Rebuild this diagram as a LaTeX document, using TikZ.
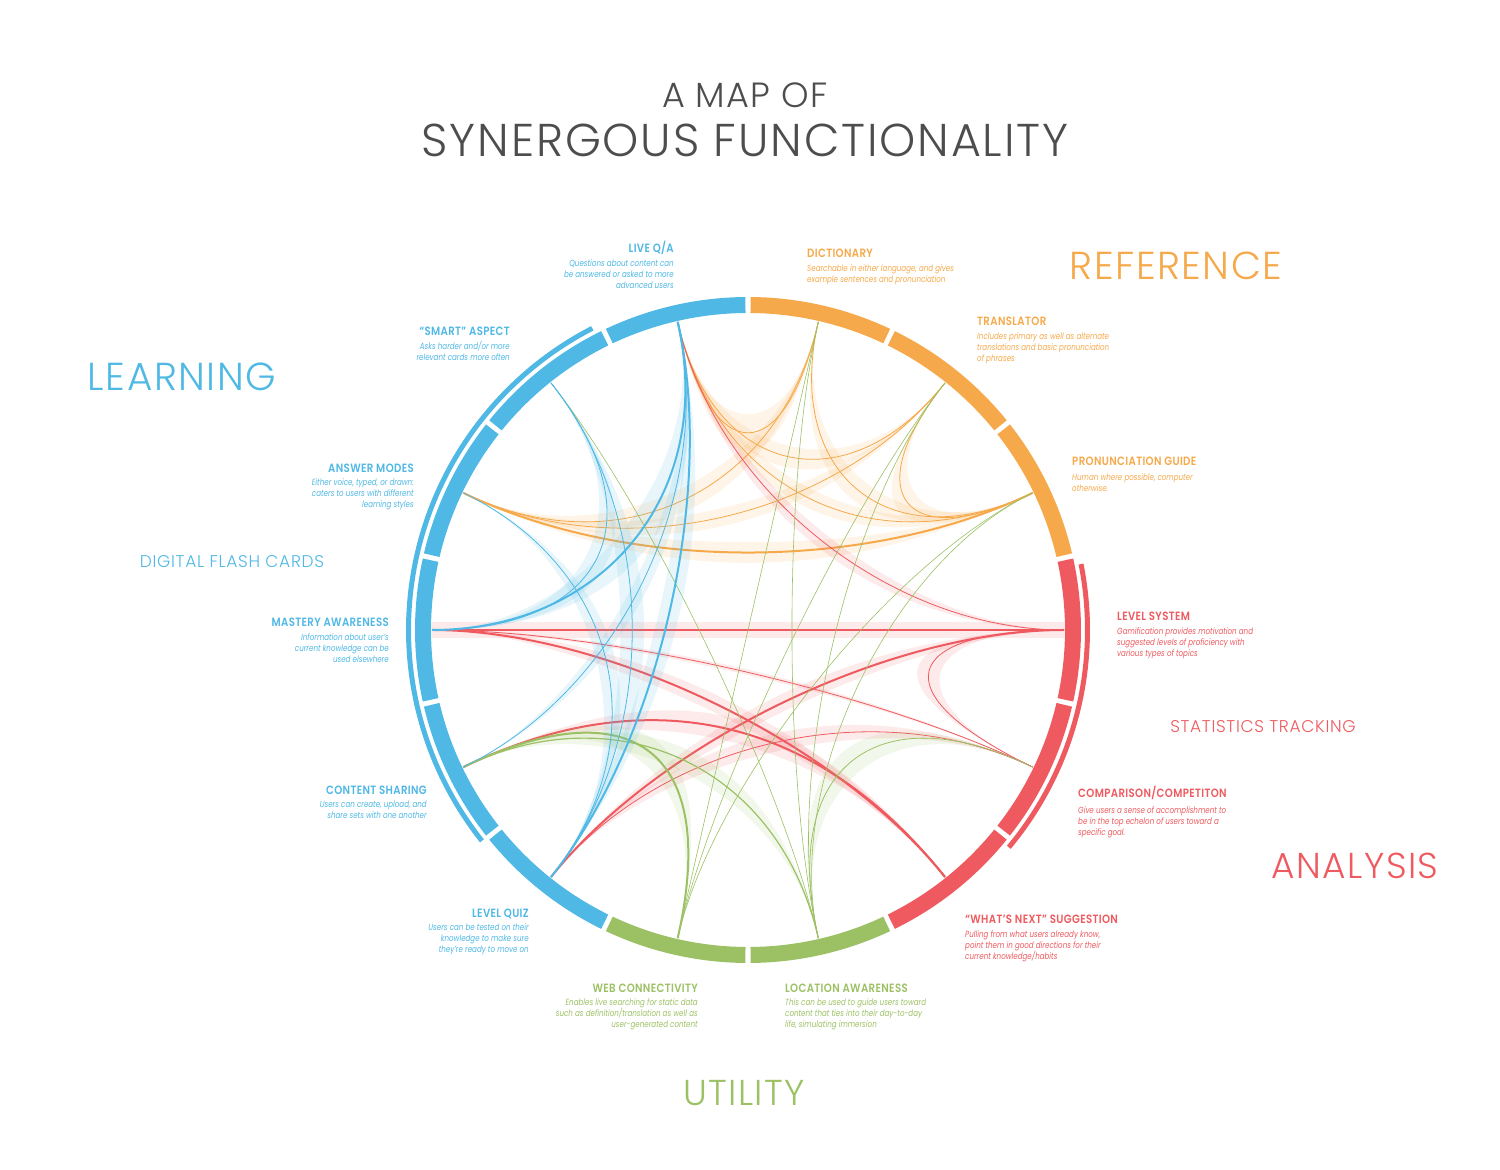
\documentclass[tikz,border=0pt]{standalone}
\usepackage{fontspec}
\setmainfont{Poppins}
\newfontfamily\lightfont{Poppins Light}[LetterSpace=4]
\newfontfamily\hdfont{Poppins SemiBold}[FakeStretch=0.85,LetterSpace=3]
\newfontfamily\descfont{Poppins Italic}[FakeStretch=0.8]
\usetikzlibrary{calc}
\definecolor{cblue}{HTML}{4FB8E4}
\definecolor{corange}{HTML}{F6A94B}
\definecolor{cred}{HTML}{EE5A5F}
\definecolor{cgreen}{HTML}{9CC164}
\definecolor{cgray}{HTML}{4D4D4F}
\newcommand\chordlink[6]{%
  \pgfmathsetmacro\kA{#3-#6}\pgfmathsetmacro\kB{#3+#6}%
  \fill[#4,opacity=.13] (#1) .. controls ($(c)!\kA!(#1)$) and ($(c)!\kA!(#2)$) .. (#2)
     .. controls ($(c)!\kB!(#2)$) and ($(c)!\kB!(#1)$) .. (#1) -- cycle;
  \draw[#4,line width=#5] (#1) .. controls ($(c)!#3!(#1)$) and ($(c)!#3!(#2)$) .. (#2);
}
\tikzset{
  hd/.style={inner sep=0pt, font=\hdfont\fontsize{12}{12}\selectfont},
  desc/.style={inner sep=0pt, font=\descfont\fontsize{8.9}{11}\selectfont},
  big/.style={inner sep=0pt, font=\lightfont\fontsize{39}{39}\selectfont},
  mid/.style={inner sep=0pt, font=\lightfont\fontsize{17}{17}\selectfont},
}
\begin{document}
\begin{tikzpicture}[x=1pt,y=1pt]
\useasboundingbox (0,0) rectangle (1500,1170);
\coordinate (c) at (748,540);
\foreach \i in {0,...,13} \coordinate (p\i) at ($(c)+({90+(\i+0.5)*360/14}:316)$);

% ---- chords ----
% orange
\chordlink{p0}{p13}{0.52}{corange}{0.8}{0.08}
\chordlink{p0}{p12}{0.5}{corange}{0.8}{0.05}
\chordlink{p0}{p11}{0.45}{corange}{0.8}{0.05}
\chordlink{p2}{p13}{0.45}{corange}{0.8}{0.06}
\chordlink{p2}{p12}{0.45}{corange}{0.8}{0.06}
\chordlink{p2}{p11}{0.42}{corange}{2}{0.1}
\chordlink{p12}{p11}{0.55}{corange}{0.8}{0.05}
\chordlink{p13}{p11}{0.5}{corange}{0.8}{0.05}
% red
\draw[cred,opacity=.13,line width=16] (p3) -- (p10);
\draw[cred,line width=2.2] (p3) -- (p10);
\chordlink{p0}{p10}{0.45}{cred}{0.8}{0.05}
\chordlink{p10}{p9}{0.47}{cred}{0.8}{0.05}
\chordlink{p5}{p10}{0.45}{cred}{2}{0.08}
\chordlink{p3}{p8}{0.45}{cred}{2}{0.08}
\chordlink{p3}{p9}{0.45}{cred}{0.8}{0.05}
\chordlink{p4}{p8}{0.35}{cred}{2}{0.08}
\chordlink{p5}{p9}{0.45}{cred}{0.8}{0.06}
% green
\chordlink{p4}{p6}{0.4}{cgreen}{2}{0.06}
\chordlink{p4}{p7}{0.45}{cgreen}{1.2}{0.06}
\chordlink{p7}{p9}{0.45}{cgreen}{0.8}{0.06}
\chordlink{p6}{p13}{0.5}{cgreen}{0.6}{0}
\chordlink{p6}{p12}{0.5}{cgreen}{0.6}{0}
\chordlink{p6}{p11}{0.5}{cgreen}{0.6}{0}
\chordlink{p7}{p13}{0.5}{cgreen}{0.6}{0}
\chordlink{p7}{p12}{0.5}{cgreen}{0.6}{0}
\chordlink{p7}{p11}{0.5}{cgreen}{0.6}{0}
\chordlink{p1}{p7}{0.5}{cgreen}{0.6}{0}
% blue
\chordlink{p0}{p3}{0.45}{cblue}{2}{0.08}
\chordlink{p0}{p5}{0.45}{cblue}{2}{0.1}
\chordlink{p0}{p4}{0.45}{cblue}{0.8}{0.05}
\chordlink{p1}{p5}{0.45}{cblue}{0.8}{0.08}
\chordlink{p1}{p3}{0.45}{cblue}{0.8}{0.05}
\chordlink{p2}{p5}{0.45}{cblue}{0.8}{0.05}

% ---- ring ----
\foreach \i/\col in {0/cblue,1/cblue,2/cblue,3/cblue,4/cblue,5/cblue,6/cgreen,7/cgreen,8/cred,9/cred,10/cred,11/corange,12/corange,13/corange}{
  \pgfmathsetmacro\aa{90+\i*360/14+0.45}
  \pgfmathsetmacro\ab{90+(\i+1)*360/14-0.45}
  \fill[\col] ($(c)+(\aa:333)$) arc[start angle=\aa, end angle=\ab, radius=333]
     -- ($(c)+(\ab:317)$) arc[start angle=\ab, end angle=\aa, radius=317] -- cycle;
}
\fill[cblue] ($(c)+(117.3:342)$) arc[start angle=117.3, end angle=218.4, radius=342]
   -- ($(c)+(218.4:337)$) arc[start angle=218.4, end angle=117.3, radius=337] -- cycle;
\fill[cred] ($(c)+(-39.8:342)$) arc[start angle=-39.8, end angle=11.2, radius=342]
   -- ($(c)+(11.2:337)$) arc[start angle=11.2, end angle=-39.8, radius=337] -- cycle;

% ---- titles ----
\node[inner sep=0pt, text=cgray, font=\lightfont\fontsize{35}{35}\selectfont] (t1) at (745,1075) {A MAP OF};
\node[inner sep=0pt, text=cgray, font=\lightfont\fontsize{46}{46}\selectfont] (t2) at (745,1030) {SYNERGOUS FUNCTIONALITY};
\node[big, text=cblue] (cLearn) at (182,793) {LEARNING};
\node[mid, text=cblue] (cFlash) at (232,608) {DIGITAL FLASH CARDS};
\node[big, text=corange] (cRef) at (1176,904) {REFERENCE};
\node[mid, text=cred] (cStat) at (1263,443) {STATISTICS TRACKING};
\node[big, text=cred, font=\lightfont\fontsize{36}{36}\selectfont] (cAna) at (1355,304) {ANALYSIS};
\node[big, text=cgreen, font=\lightfont\fontsize{36}{36}\selectfont] (cUtil) at (744,77) {UTILITY};

% ---- item labels: left side (right aligned) ----
\node[hd,text=cblue,anchor=base east] (hLive) at (674,917) {LIVE Q/A};
\node[desc,text=cblue,anchor=base east,align=right] (dLive) at (674,881) {Questions about content can\\be answered or asked to more\\advanced users};
\node[hd,text=cblue,anchor=base east] (hSmart) at (510,834) {“SMART” ASPECT};
\node[desc,text=cblue,anchor=base east,align=right] (dSmart) at (510,809) {Asks harder and/or more\\relevant cards more often};
\node[hd,text=cblue,anchor=base east] (hAns) at (414,697) {ANSWER MODES};
\node[desc,text=cblue,anchor=base east,align=right] (dAns) at (414,662) {Either voice, typed, or drawn:\\caters to users with different\\learning styles};
\node[hd,text=cblue,anchor=base east] (hMas) at (389,543) {MASTERY AWARENESS};
\node[desc,text=cblue,anchor=base east,align=right] (dMas) at (389,507) {Information about user’s\\current knowledge can be\\used elsewhere};
\node[hd,text=cblue,anchor=base east] (hCon) at (427,375) {CONTENT SHARING};
\node[desc,text=cblue,anchor=base east,align=right] (dCon) at (427,351) {Users can create, upload, and\\share sets with one another};
\node[hd,text=cblue,anchor=base east] (hQuiz) at (529,252) {LEVEL QUIZ};
\node[desc,text=cblue,anchor=base east,align=right] (dQuiz) at (529,217) {Users can be tested on their\\knowledge to make sure\\they’re ready to move on};
\node[hd,text=cgreen,anchor=base east] (hWeb) at (698,177) {WEB CONNECTIVITY};
\node[desc,text=cgreen,anchor=base east,align=right] (dWeb) at (698,142) {Enables live searching for static data\\such as definition/translation as well as\\user-generated content};
% ---- right side (left aligned) ----
\node[hd,text=cgreen,anchor=base west] (hLoc) at (785,177) {LOCATION AWARENESS};
\node[desc,text=cgreen,anchor=base west,align=left] (dLoc) at (785,142) {This can be used to guide users toward\\content that ties into their day-to-day\\life, simulating immersion};
\node[hd,text=cred,anchor=base west] (hNext) at (965,246) {“WHAT’S NEXT” SUGGESTION};
\node[desc,text=cred,anchor=base west,align=left] (dNext) at (965,210) {Pulling from what users already know,\\point them in good directions for their\\current knowledge/habits};
\node[hd,text=cred,anchor=base west] (hComp) at (1078,372) {COMPARISON/COMPETITON};
\node[desc,text=cred,anchor=base west,align=left] (dComp) at (1078,334) {Give users a sense of accomplishment to\\be in the top echelon of users toward a\\specific goal.};
\node[hd,text=cred,anchor=base west] (hLev) at (1117,549) {LEVEL SYSTEM};
\node[desc,text=cred,anchor=base west,align=left] (dLev) at (1117,513) {Gamification provides motivation and\\suggested levels of proficiency with\\various types of topics};
\node[hd,text=corange,anchor=base west] (hPro) at (1072,704) {PRONUNCIATION GUIDE};
\node[desc,text=corange,anchor=base west,align=left] (dPro) at (1072,678) {Human where possible, computer\\otherwise.};
\node[hd,text=corange,anchor=base west] (hTra) at (977,844) {TRANSLATOR};
\node[desc,text=corange,anchor=base west,align=left] (dTra) at (977,808) {Includes primary as well as alternate\\translations and basic pronunciation\\of phrases};
\node[hd,text=corange,anchor=base west] (hDic) at (807,912) {DICTIONARY};
\node[desc,text=corange,anchor=base west,align=left] (dDic) at (807,887) {Searchable in either language, and gives\\example sentences and pronunciation};
\end{tikzpicture}
\end{document}
